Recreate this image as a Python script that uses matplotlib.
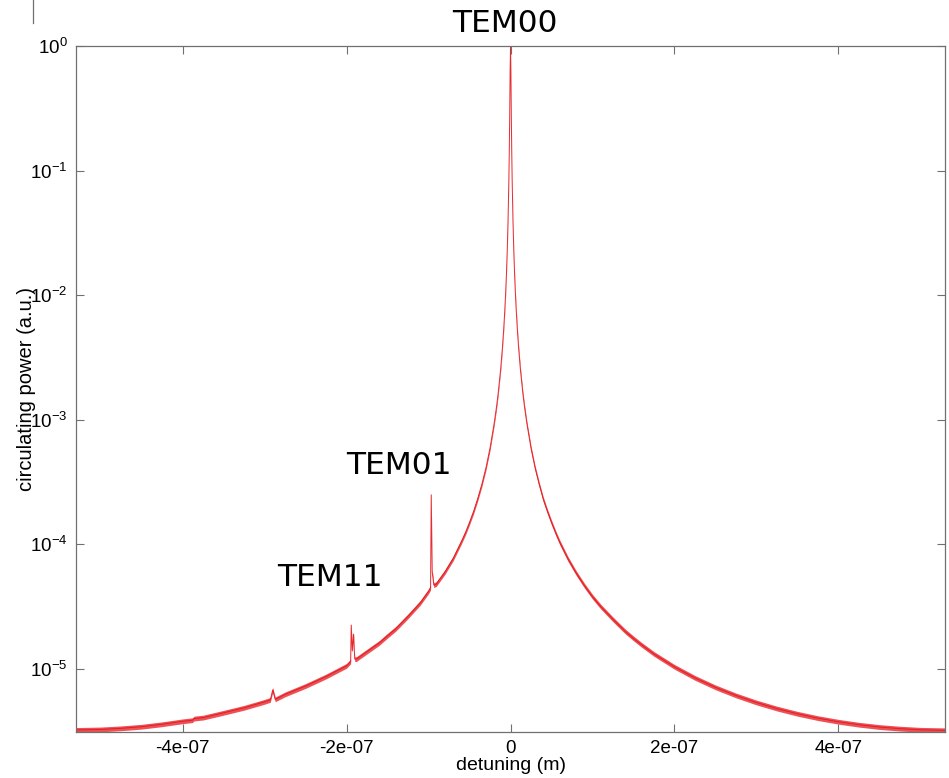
import numpy as np
import matplotlib
matplotlib.use("Agg")
import matplotlib.pyplot as plt
from matplotlib.lines import Line2D
from matplotlib.ticker import LogLocator, NullLocator


# Cavity scan: circulating power vs detuning, sampled along the trace
# (detuning in units of 1e-7 m)
detuning_e7 = [
    -5.3, -5.0, -4.75, -4.5, -4.25, -4.0, -3.88, -3.86, -3.75, -3.5, -3.25,
    -3.0, -2.93, -2.90, -2.87, -2.75, -2.5, -2.25, -2.0, -1.95, -1.943,
    -1.93, -1.915, -1.90, -1.88, -1.75, -1.6, -1.5, -1.4, -1.25, -1.1,
    -1.0, -0.975, -0.967, -0.955, -0.935, -0.906, -0.8, -0.7, -0.6, -0.55,
    -0.5, -0.45, -0.4, -0.35, -0.3, -0.25, -0.2, -0.17, -0.15, -0.12, -0.1,
    -0.085, -0.07, -0.06, -0.05, -0.04, -0.03, -0.02, -0.015, -0.01,
    -0.005, 0.0,
    0.005, 0.01, 0.015, 0.02, 0.03, 0.04, 0.05, 0.06, 0.07, 0.085, 0.1,
    0.12, 0.15, 0.17, 0.2, 0.25, 0.3, 0.35, 0.4, 0.45, 0.5, 0.55, 0.6, 0.7,
    0.8, 0.9, 1.0, 1.1, 1.25, 1.4, 1.5, 1.6, 1.75, 2.0, 2.25, 2.5, 2.75,
    3.0, 3.25, 3.5, 3.75, 4.0, 4.25, 4.5, 4.75, 5.0, 5.3,
]
power = [
    3.24e-6, 3.27e-6, 3.34e-6, 3.44e-6, 3.60e-6, 3.80e-6, 3.88e-6, 4.0e-6,
    4.07e-6, 4.45e-6, 4.88e-6,
    5.45e-6, 5.65e-6, 6.8e-6, 5.7e-6, 6.25e-6, 7.3e-6, 8.7e-6, 1.06e-5,
    1.15e-5, 2.25e-5,
    1.4e-5, 1.9e-5, 1.2e-5, 1.2e-5, 1.38e-5, 1.62e-5, 1.85e-5, 2.1e-5,
    2.65e-5, 3.4e-5,
    4.2e-5, 4.5e-5, 2.5e-4, 6.0e-5, 4.7e-5, 4.8e-5, 6.0e-5, 7.7e-5,
    1.05e-4, 1.24e-4,
    1.5e-4, 1.84e-4, 2.33e-4, 3.03e-4, 4.1e-4, 5.92e-4, 9.3e-4, 1.28e-3,
    1.64e-3, 2.56e-3, 3.7e-3,
    5.1e-3, 7.5e-3, 0.0102, 0.0146, 0.0226, 0.040, 0.085, 0.141, 0.27,
    0.60, 1.0,
    0.60, 0.27, 0.141, 0.085, 0.040, 0.0226, 0.0146, 0.0102, 0.0075,
    5.1e-3, 3.7e-3,
    2.56e-3, 1.64e-3, 1.28e-3, 9.3e-4, 5.92e-4, 4.1e-4, 3.03e-4, 2.3e-4,
    1.84e-4, 1.5e-4, 1.24e-4, 1.04e-4, 7.66e-5,
    5.9e-5, 4.68e-5, 3.8e-5, 3.17e-5, 2.5e-5, 2.0e-5, 1.76e-5, 1.56e-5,
    1.32e-5, 1.04e-5, 8.48e-6, 7.12e-6, 6.13e-6,
    5.38e-6, 4.81e-6, 4.37e-6, 4.03e-6, 3.77e-6, 3.57e-6, 3.42e-6, 3.32e-6,
    3.25e-6, 3.22e-6,
]

x_ticks = [-4e-7, -2e-7, 0, 2e-7, 4e-7]
x_tick_labels = ["-4e-07", "-2e-07", "0", "2e-07", "4e-07"]

W, H = 949, 778
BAND = 1.045  # visual thickness of the trace in log space


def main() -> None:
    plt.rcParams["font.family"] = ["Liberation Sans", "DejaVu Sans"]
    plt.rcParams["mathtext.default"] = "regular"
    plt.rcParams["axes.unicode_minus"] = False

    x = np.array(detuning_e7) * 1e-7
    p = np.array(power)

    fig = plt.figure(figsize=(W / 100, H / 100), dpi=100)
    ax = fig.add_axes([76 / W, 1 - 732 / H, (945 - 76) / W, (732 - 46) / H])

    ax.fill_between(x, p / BAND, p * BAND, color="#e8262b", alpha=0.8,
                    linewidth=0)
    ax.plot(x, p, color="#e3161c", linewidth=0.7, alpha=0.9)

    ax.set_yscale("log")
    ax.set_xlim(-5.3e-7, 5.3e-7)
    ax.set_ylim(3.12e-6, 1.0)

    ax.set_xticks(x_ticks)
    ax.set_xticklabels(x_tick_labels)
    ax.yaxis.set_major_locator(LogLocator(base=10, numticks=10))
    ax.yaxis.set_minor_locator(NullLocator())

    ax.tick_params(direction="in", length=6, width=0.8, color="#707070",
                   labelsize=13.5, labelcolor="black", pad=6,
                   top=True, right=True)
    for s in ax.spines.values():
        s.set_color("#707070")
        s.set_linewidth(0.9)

    fig.text(27 / W, 1 - 389 / H, "circulating power (a.u.)", rotation=90,
             ha="center", va="center", fontsize=14.5)
    fig.text(511 / W, 1 - 766 / H, "detuning (m)", ha="center",
             va="center", fontsize=14)

    label_kw = dict(ha="center", va="center", fontsize=22.5,
                    family="DejaVu Sans")
    fig.text(505 / W, 1 - 23 / H, "TEM00", **label_kw)
    fig.text(399 / W, 1 - 465 / H, "TEM01", **label_kw)
    fig.text(330 / W, 1 - 578 / H, "TEM11", **label_kw)

    # short stray rule at the top-left edge
    fig.add_artist(Line2D([33 / W, 33 / W], [1.0, 1 - 23 / H],
                          color="#707070", linewidth=0.9))

    fig.savefig("out.png", dpi=100)
    plt.close(fig)


if __name__ == "__main__":
    main()
